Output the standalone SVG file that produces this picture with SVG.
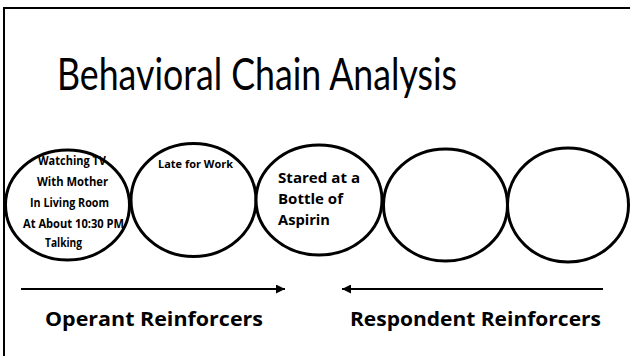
<svg xmlns="http://www.w3.org/2000/svg" width="630" height="356" viewBox="0 0 630 356">
<defs>
<style>
.node{fill:#fff;stroke:#000;stroke-width:3}
.t{font-family:Lato,"Open Sans","Liberation Sans",sans-serif;fill:#000}
.b{font-family:"Open Sans",Lato,"Liberation Sans",sans-serif;font-weight:bold}
.conn{stroke:#000;stroke-width:2;fill:none}
</style>
<marker id="ah" viewBox="0 0 10 10" refX="10" refY="5" markerWidth="4.5" markerHeight="4.5" orient="auto-start-reverse" markerUnits="strokeWidth">
<path d="M0,0 L10,5 L0,10 z" fill="#000"/>
</marker>
</defs>
<rect x="0" y="0" width="630" height="356" fill="#fff"/>
<path d="M4,356 L4,8 L630,8" fill="none" stroke="#000" stroke-width="2"/>
<text class="t" x="57" y="90" font-size="45" textLength="400" lengthAdjust="spacingAndGlyphs">Behavioral Chain Analysis</text>
<g id="node1">
<ellipse class="node" cx="67.5" cy="205" rx="62" ry="55"/>
<text class="t b" x="38" y="165" font-size="11.5" textLength="68" lengthAdjust="spacingAndGlyphs">Watching TV</text>
<text class="t b" x="37" y="185.5" font-size="11.5" textLength="71" lengthAdjust="spacingAndGlyphs">With Mother</text>
<text class="t b" x="30" y="207" font-size="11.5" textLength="79" lengthAdjust="spacingAndGlyphs">In Living Room</text>
<text class="t b" x="23" y="227.5" font-size="11.5" textLength="101" lengthAdjust="spacingAndGlyphs">At About 10:30 PM</text>
<text class="t b" x="45" y="247" font-size="11.5" textLength="37" lengthAdjust="spacingAndGlyphs">Talking</text>
</g>
<g id="node2">
<ellipse class="node" cx="193.5" cy="200" rx="62.5" ry="56.5"/>
<text class="t b" x="158" y="167.5" font-size="11" textLength="75" lengthAdjust="spacingAndGlyphs">Late for Work</text>
</g>
<g id="node3">
<ellipse class="node" cx="319" cy="200" rx="63" ry="55"/>
<text class="t b" x="278" y="182.5" font-size="13.5" textLength="82" lengthAdjust="spacingAndGlyphs">Stared at a</text>
<text class="t b" x="278" y="203.5" font-size="13.5" textLength="65" lengthAdjust="spacingAndGlyphs">Bottle of</text>
<text class="t b" x="278" y="225" font-size="13.5" textLength="52" lengthAdjust="spacingAndGlyphs">Aspirin</text>
</g>
<g id="node4">
<ellipse class="node" cx="445.5" cy="205" rx="62" ry="56"/>
</g>
<g id="node5">
<ellipse class="node" cx="568" cy="205" rx="60.5" ry="57"/>
</g>
<g id="connectors">
<line class="conn" x1="21" y1="289" x2="285" y2="289" marker-end="url(#ah)"/>
<line class="conn" x1="603" y1="289" x2="342" y2="289" marker-end="url(#ah)"/>
</g>
<text class="t b" x="45" y="326" font-size="20" textLength="218" lengthAdjust="spacingAndGlyphs">Operant Reinforcers</text>
<text class="t b" x="350" y="326" font-size="20" textLength="251" lengthAdjust="spacingAndGlyphs">Respondent Reinforcers</text>
</svg>
